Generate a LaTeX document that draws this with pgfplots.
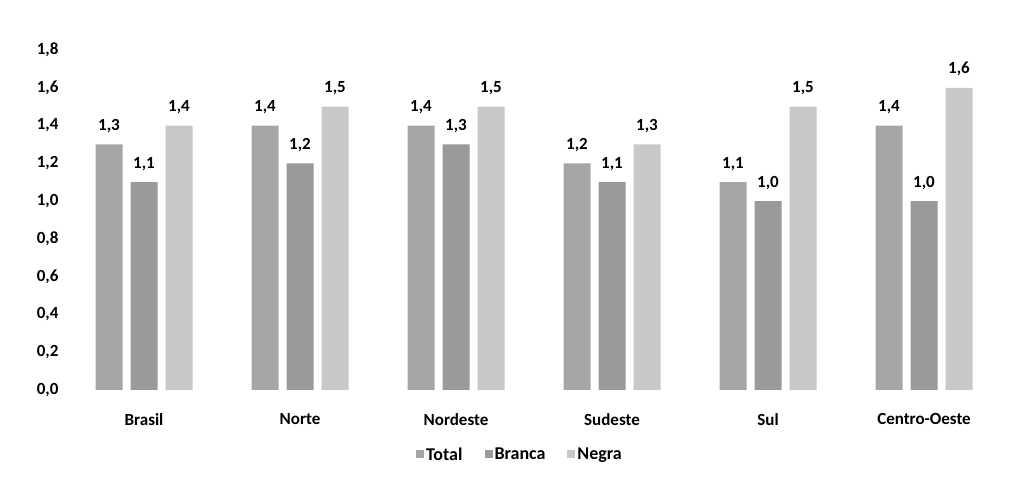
\documentclass[border=0pt]{standalone}
\usepackage{pgfplots}
\pgfplotsset{compat=1.18}
\usepackage{fontspec}
\setmainfont{Carlito}
\definecolor{cTotal}{HTML}{A6A6A6}
\definecolor{cBranca}{HTML}{9A9A9A}
\definecolor{cNegra}{HTML}{C8C8C8}
\begin{document}
\begin{tikzpicture}[x=1pt,y=1pt]
\path[use as bounding box] (0,0) rectangle (1022,486);
\begin{axis}[
  at={(66pt,96pt)}, anchor=south west,
  scale only axis,
  width=936pt, height=340pt,
  xmin=-0.5, xmax=5.5, ymin=0, ymax=1.8,
  ybar=8pt, bar width=27pt,
  axis line style={draw=none},
  major tick length=0pt,
  xtick={0,1,2,3,4,5},
  xticklabels={Brasil,Norte,Nordeste,Sudeste,Sul,Centro-Oeste},
  x tick label style={font=\fontsize{17}{19}\selectfont\bfseries, yshift=-20pt},
  ytick={0,0.2,...,1.8},
  y tick label style={font=\fontsize{17}{19}\selectfont\bfseries, xshift=-4pt},
  yticklabel style={/pgf/number format/.cd, fixed, fixed zerofill, precision=1, use comma, assume math mode=true},
  nodes near coords,
  nodes near coords style={font=\fontsize{17}{19}\selectfont\bfseries, yshift=8pt, /pgf/number format/.cd, fixed, fixed zerofill, precision=1, use comma, assume math mode=true},
  legend columns=3,
  legend style={at={(0.485,-0.19)}, anchor=center, draw=none, fill=none,
    font=\fontsize{18}{20}\selectfont\bfseries,
    /tikz/every even column/.append style={column sep=20pt}},
  legend image code/.code={\fill[#1,draw=none] (0pt,-3pt) rectangle (8pt,5pt);},
  clip=false,
]
\addplot[fill=cTotal, draw=none] coordinates {(0,1.3) (1,1.4) (2,1.4) (3,1.2) (4,1.1) (5,1.4)};
\addplot[fill=cBranca, draw=none] coordinates {(0,1.1) (1,1.2) (2,1.3) (3,1.1) (4,1.0) (5,1.0)};
\addplot[fill=cNegra, draw=none] coordinates {(0,1.4) (1,1.5) (2,1.5) (3,1.3) (4,1.5) (5,1.6)};
\legend{Total, Branca, Negra}
\end{axis}
\end{tikzpicture}
\end{document}
